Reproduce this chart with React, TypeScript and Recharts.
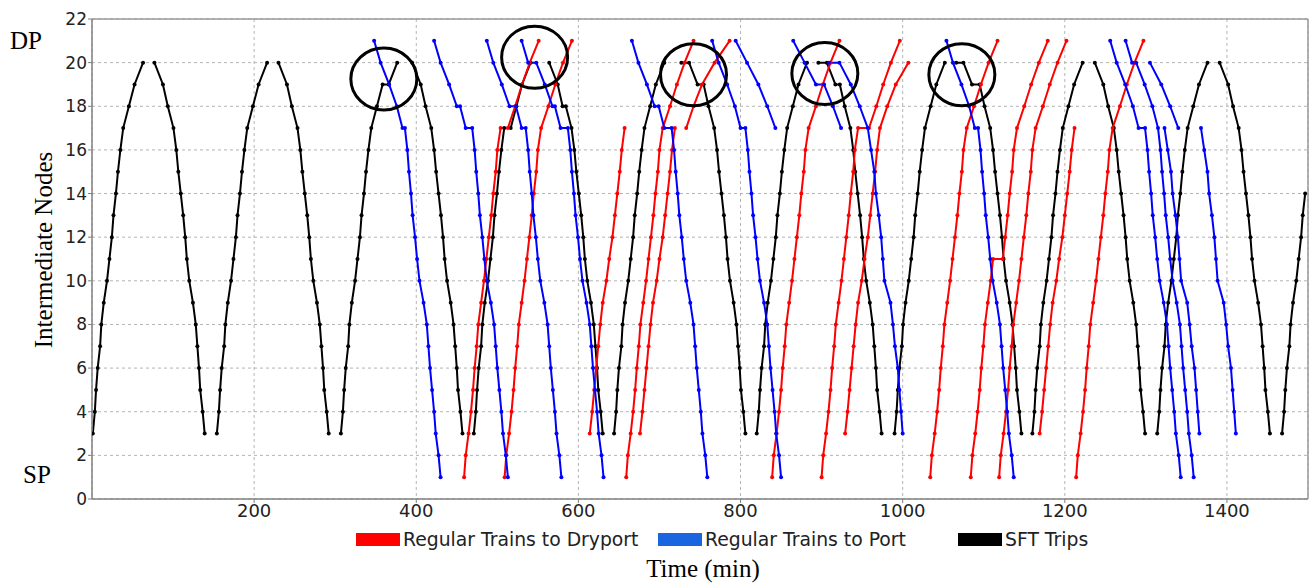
import React from 'react';
import { LineChart, Line, XAxis, YAxis, CartesianGrid, ReferenceLine, ReferenceDot } from 'recharts';

type Run = { first: number; step: number; mins: number[] };
type Trip = { run: string; start: number; from?: number; to?: number; wait?: Record<number, number> };

// cumulative running times (min) between nodes
const sftUpMins = [0, 2.5, 4, 6, 9, 10.5, 13.5, 17.5, 20.5, 23.5, 25.5, 28.5, 31, 34, 37.5, 44.5, 51.5, 62]; // nodes 3..20
const sftDownMins = [0, 10.5, 16.5, 23.5, 27, 29.5, 32.5, 35.5, 38, 40, 43, 47.5, 51, 53, 55, 56.5, 59.5, 62]; // nodes 20..3
const dryportMins = [0, 2, 5.5, 8.5, 11, 13, 15.5, 17.5, 21, 24.5, 27.5, 30.5, 33.5, 36, 39, 41, 45, 54, 62.5, 72, 83]; // nodes 1..21
const dryportSlowMins = [0, 3, 5.5, 8, 10.5, 13, 16, 20.5, 24, 28, 31, 34, 37, 39.5, 43, 52, 62.5, 78, 96.5]; // nodes 3..21
const portMins = [0, 8, 18.5, 28, 35, 38, 40, 42.5, 44.5, 47.5, 50, 53, 58, 62, 64, 66, 68.5, 71, 73, 76.5, 79]; // nodes 21..1
const portSlowMins = [0, 14, 28, 39, 49, 53, 57, 59, 62.5, 65.5, 67.5, 69.5, 77, 80, 82.5, 86, 88, 90, 92]; // nodes 21..3

const runs: Record<string, Run> = {
  sftUp: { first: 3, step: 1, mins: sftUpMins },
  sftDown: { first: 20, step: -1, mins: sftDownMins },
  dry: { first: 1, step: 1, mins: dryportMins },
  drySlow: { first: 3, step: 1, mins: dryportSlowMins },
  port: { first: 21, step: -1, mins: portMins },
  portSlow: { first: 21, step: -1, mins: portSlowMins },
};

// departures (min) and waits at nodes (min)
const sftTrips: Trip[] = [
  { run: 'sftUp', start: 1 },
  { run: 'sftDown', start: 77 },
  { run: 'sftUp', start: 154 },
  { run: 'sftDown', start: 230 },
  { run: 'sftUp', start: 307, wait: { 19: 7.5 } },
  { run: 'sftDown', start: 395 },
  { run: 'sftUp', start: 471, wait: { 17: 8 } },
  { run: 'sftDown', start: 564, wait: { 18: 4 } },
  { run: 'sftUp', start: 644 },
  { run: 'sftDown', start: 727, wait: { 20: 9.5, 19: 7.5 } },
  { run: 'sftUp', start: 820 },
  { run: 'sftDown', start: 896, wait: { 20: 10.5, 19: 5.5 } },
  { run: 'sftUp', start: 990 },
  { run: 'sftDown', start: 1066, wait: { 20: 9, 19: 9.5 } },
  { run: 'sftUp', start: 1160 },
  { run: 'sftDown', start: 1237 },
  { run: 'sftUp', start: 1314 },
  { run: 'sftDown', start: 1391 },
  { run: 'sftUp', start: 1468, to: 14 },
];

const dryportTrips: Trip[] = [
  { run: 'dry', start: 459, wait: { 17: 9 } },
  { run: 'dry', start: 509 },
  { run: 'drySlow', start: 614, to: 17 },
  { run: 'dry', start: 659 },
  { run: 'drySlow', start: 676, to: 17 },
  { run: 'drySlow', start: 733, from: 17 },
  { run: 'dry', start: 839 },
  { run: 'dry', start: 900, wait: { 17: 13.5 } },
  { run: 'drySlow', start: 929, to: 20 },
  { run: 'dry', start: 1034 },
  { run: 'dry', start: 1084, wait: { 11: 12 } },
  { run: 'dry', start: 1119 },
  { run: 'drySlow', start: 1169, to: 17 },
  { run: 'dry', start: 1214 },
];

const portTrips: Trip[] = [
  { run: 'port', start: 348, wait: { 17: 3 } },
  { run: 'port', start: 422, wait: { 18: 4, 17: 8 } },
  { run: 'port', start: 487, wait: { 18: 8, 17: 5 } },
  { run: 'port', start: 530, wait: { 20: 10, 18: 3, 17: 9 } },
  { run: 'port', start: 666, wait: { 18: 5, 17: 9 } },
  { run: 'port', start: 765, wait: { 17: 6 } },
  { run: 'portSlow', start: 794, to: 17 },
  { run: 'portSlow', start: 865, to: 17, wait: { 19: 10 } },
  { run: 'portSlow', start: 909, from: 20, wait: { 20: 13 } },
  { run: 'port', start: 1054, wait: { 17: 4 } },
  { run: 'port', start: 1256, wait: { 17: 8 } },
  { run: 'port', start: 1275, wait: { 20: 5 } },
  { run: 'portSlow', start: 1305, from: 20, to: 17 },
  { run: 'portSlow', start: 1323, from: 17 },
  { run: 'portSlow', start: 1368, from: 17 },
];

// conflict circles (time, node)
const conflicts = [
  { t: 360, node: 19.25 },
  { t: 546, node: 20.25 },
  { t: 742, node: 19.45 },
  { t: 904, node: 19.5 },
  { t: 1073, node: 19.45 },
];

const xTicks = [200, 400, 600, 800, 1000, 1200, 1400];
const yTicks = [0, 2, 4, 6, 8, 10, 12, 14, 16, 18, 20, 22];

const legendItems = [
  { label: 'Regular Trains to Dryport', color: '#ff0000', x: 356 },
  { label: 'Regular Trains to Port', color: '#1a66e0', x: 658 },
  { label: 'SFT Trips', color: '#000000', x: 958 },
];

const buildTrip = (trip: Trip) => {
  const run = runs[trip.run];
  const last = run.first + run.step * (run.mins.length - 1);
  const from = trip.from ?? run.first;
  const to = trip.to ?? last;
  const base = run.mins[(from - run.first) * run.step];
  const points: { t: number; node: number }[] = [];
  let waited = 0;
  for (let node = from; node !== to + run.step; node += run.step) {
    const t = trip.start + run.mins[(node - run.first) * run.step] - base + waited;
    points.push({ t, node });
    const w = trip.wait?.[node];
    if (w) {
      waited += w;
      points.push({ t: t + w, node });
    }
  }
  return points;
};

const series = [
  ...sftTrips.map((trip) => ({ color: '#000000', points: buildTrip(trip) })),
  ...dryportTrips.map((trip) => ({ color: '#ff0000', points: buildTrip(trip) })),
  ...portTrips.map((trip) => ({ color: '#0000ff', points: buildTrip(trip) })),
];

const serif = '"Liberation Serif", "Times New Roman", serif';
const sans = '"DejaVu Sans", Verdana, sans-serif';

const Ring = (props: any) => (
  <ellipse cx={props.cx} cy={props.cy} rx={33} ry={31} fill="none" stroke="#000" strokeWidth={3} />
);

export default function App() {
  return (
    <div style={{ position: 'absolute', left: 0, top: 0, width: 1312, height: 583, background: '#fff' }}>
      <LineChart width={1312} height={583} margin={{ top: 19, right: 4, bottom: 54, left: 32 }}>
        <CartesianGrid stroke="#b4b4b4" strokeDasharray="3 3" />
        <XAxis
          type="number"
          dataKey="t"
          domain={[0, 1500]}
          ticks={xTicks}
          height={30}
          tickSize={4}
          tickMargin={1}
          allowDataOverflow
          axisLine={{ stroke: '#808080', strokeWidth: 1.5 }}
          tickLine={{ stroke: '#808080' }}
          tick={{ fontSize: 18, fill: '#222', fontFamily: sans }}
        />
        <YAxis
          type="number"
          dataKey="node"
          domain={[0, 22]}
          ticks={yTicks}
          width={60}
          tickSize={4}
          tickMargin={1}
          axisLine={{ stroke: '#808080', strokeWidth: 1.5 }}
          tickLine={{ stroke: '#808080' }}
          tick={{ fontSize: 17, fill: '#222', fontFamily: sans }}
        />
        <ReferenceLine y={22} stroke="#9a9a9a" strokeWidth={1.5} />
        <ReferenceLine x={1500} stroke="#9a9a9a" strokeWidth={1.5} />
        {series.map((s, i) => (
          <Line
            key={i}
            data={s.points}
            dataKey="node"
            stroke={s.color}
            strokeWidth={2}
            dot={{ r: 2, fill: s.color, stroke: 'none' }}
            legendType="none"
            isAnimationActive={false}
          />
        ))}
        {conflicts.map((c, i) => (
          <ReferenceDot key={i} x={c.t} y={c.node} r={32} shape={Ring} ifOverflow="visible" />
        ))}
      </LineChart>
      <svg width={1312} height={583} style={{ position: 'absolute', left: 0, top: 0, pointerEvents: 'none' }}>
        <text x={10} y={49} fontFamily={serif} fontSize={25} fill="#000">DP</text>
        <text x={23} y={483} fontFamily={serif} fontSize={25} fill="#000">SP</text>
        <text transform="translate(52,250) rotate(-90)" textAnchor="middle" fontFamily={serif} fontSize={25} fill="#000">
          Intermediate Nodes
        </text>
        <text x={703} y={577} textAnchor="middle" fontFamily={serif} fontSize={25} fill="#000">Time (min)</text>
        {legendItems.map((item) => (
          <g key={item.label}>
            <rect x={item.x} y={533} width={44} height={13} fill={item.color} />
            <text x={item.x + 47} y={546} fontFamily={sans} fontSize={18.8} fill="#222">{item.label}</text>
          </g>
        ))}
      </svg>
    </div>
  );
}
